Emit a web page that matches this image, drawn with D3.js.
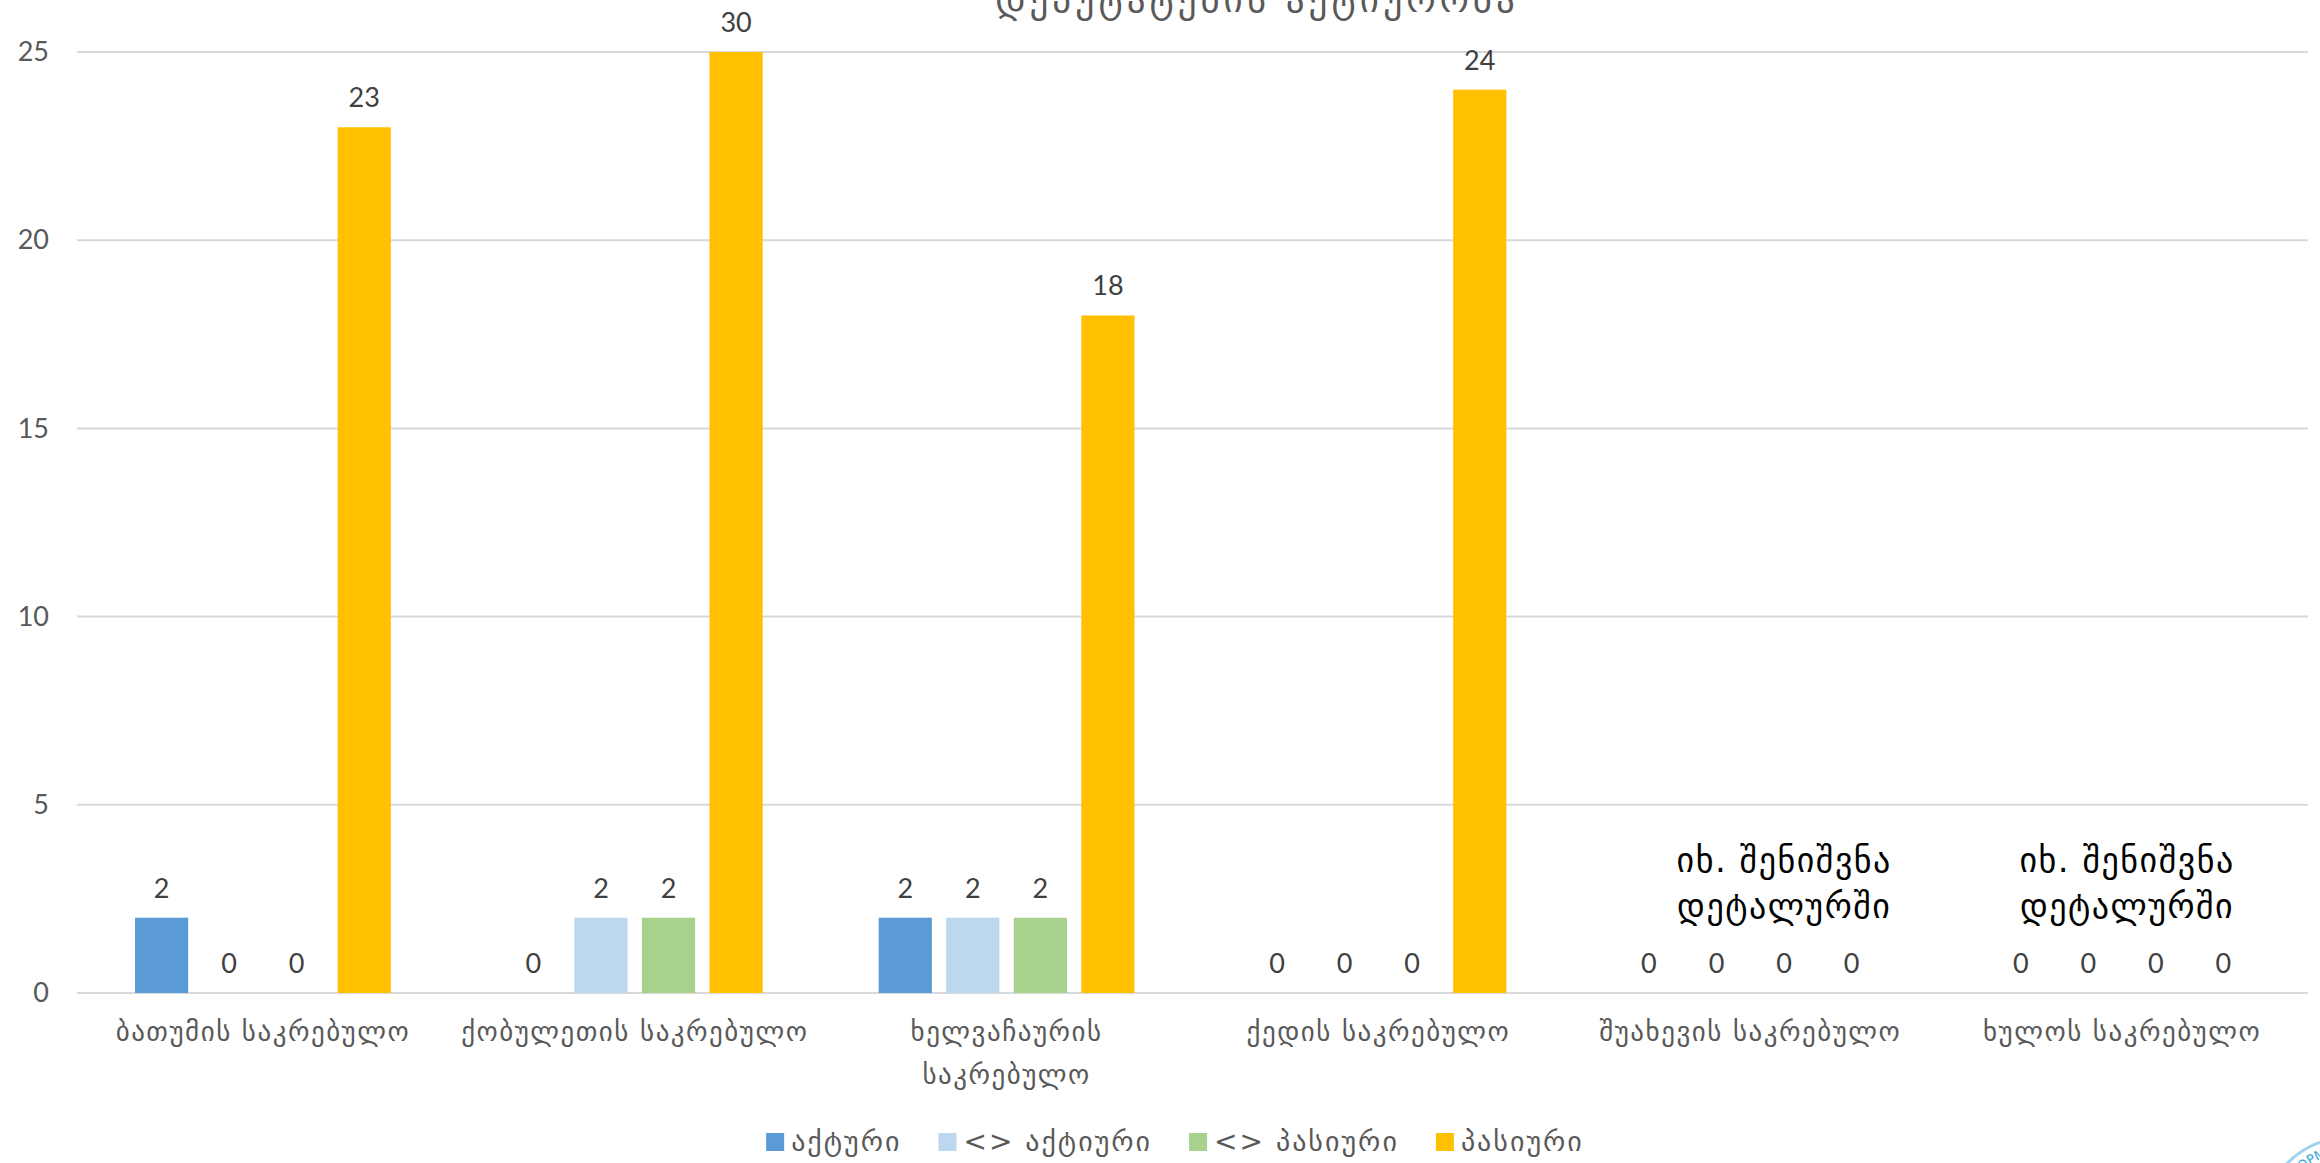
<!DOCTYPE html>
<html>
<head>
<meta charset="utf-8">
<script src="https://cdn.jsdelivr.net/npm/d3@7"></script>
<style>
  body { margin: 0; background: #fff; }
  svg { display: block; }
</style>
</head>
<body>
<div id="chart"></div>
<script>
// chart data
var categories = ["ბათუმის საკრებულო", "ქობულეთის საკრებულო", "ხელვაჩაურის\nსაკრებულო",
  "ქედის საკრებულო", "შუახევის საკრებულო", "ხულოს საკრებულო"];
var seriesNames = ["აქტური", "<> აქტიური", "<> პასიური", "პასიური"];
var aktiuri = [2, 0, 2, 0, 0, 0];
var naklebAktiuri = [0, 2, 2, 0, 0, 0];
var naklebPasiuri = [0, 2, 2, 0, 0, 0];
var pasiuri = [23, 30, 18, 24, 0, 0];
var yTicks = [0, 5, 10, 15, 20, 25];
var noteText = ["იხ. შენიშვნა", "დეტალურში"];
var noteCats = ["შუახევის საკრებულო", "ხულოს საკრებულო"];
var titleText = "დეპუტატების აქტიურობა";

var colors = ["#5b9bd5", "#bdd7ee", "#a9d18e", "#ffc000"];
var values = [aktiuri, naklebAktiuri, naklebPasiuri, pasiuri];

var width = 2320, height = 1163;
var margin = {top: 52, right: 12, bottom: 170, left: 77};

var data = categories.map(function(c, i) {
  return {cat: c, vals: seriesNames.map(function(s, j) { return {name: s, value: values[j][i]}; })};
});

var svg = d3.select("#chart").append("svg")
  .attr("width", width)
  .attr("height", height);

var x0 = d3.scaleBand()
  .domain(categories)
  .range([margin.left, width - margin.right])
  .paddingInner(0.312)
  .paddingOuter(0.156);

var x1 = d3.scaleBand()
  .domain(seriesNames)
  .range([0, x0.bandwidth()])
  .paddingInner(0.213);

var y = d3.scaleLinear()
  .domain([0, 25])
  .range([height - margin.bottom, margin.top])
  .clamp(true);

var numFont = "Lato, 'Open Sans', sans-serif";
var geoFont = "'DejaVu Sans', sans-serif";

// title (cut off at the top like in the source)
svg.append("text")
  .attr("x", 1257)
  .attr("y", 12)
  .attr("text-anchor", "middle")
  .style("font-family", geoFont)
  .style("font-size", "37px")
  .style("letter-spacing", "4px")
  .attr("fill", "#595959")
  .text(titleText);

// gridlines
svg.append("g")
  .selectAll("line")
  .data(yTicks)
  .enter().append("line")
  .attr("x1", margin.left)
  .attr("x2", width - margin.right)
  .attr("y1", d => y(d))
  .attr("y2", d => y(d))
  .attr("stroke", "#d9d9d9")
  .attr("stroke-width", 2);

// y axis
svg.append("g")
  .attr("transform", `translate(${margin.left},0)`)
  .call(d3.axisLeft(y).tickValues(yTicks).tickSize(0).tickPadding(28))
  .call(g => g.select(".domain").remove())
  .call(g => g.selectAll("text")
    .style("font-family", numFont)
    .style("font-size", "27px")
    .attr("fill", "#595959"));

// bars
var groups = svg.append("g")
  .selectAll("g")
  .data(data)
  .enter().append("g")
  .attr("transform", d => `translate(${x0(d.cat)},0)`);

groups.selectAll("rect")
  .data(d => d.vals)
  .enter().append("rect")
  .attr("x", d => x1(d.name))
  .attr("y", d => y(d.value))
  .attr("width", x1.bandwidth())
  .attr("height", d => y(0) - y(d.value))
  .attr("fill", (d, i) => colors[i]);

groups.selectAll("text.val")
  .data(d => d.vals)
  .enter().append("text")
  .attr("class", "val")
  .attr("x", d => x1(d.name) + x1.bandwidth() / 2)
  .attr("y", d => y(d.value) - 20)
  .attr("text-anchor", "middle")
  .style("font-family", numFont)
  .style("font-size", "27px")
  .attr("fill", "#404040")
  .text(d => d.value);

// category axis
svg.append("g")
  .attr("transform", `translate(0,${height - margin.bottom})`)
  .call(d3.axisBottom(x0).tickSize(0))
  .call(g => g.select(".domain").remove())
  .call(g => g.selectAll("text").each(function(d) {
    var t = d3.select(this).text("").attr("y", 0).attr("dy", null)
      .style("font-family", geoFont)
      .style("font-size", "27px")
      .style("letter-spacing", "1.5px")
      .attr("fill", "#595959");
    d.split("\n").forEach(function(line, k) {
      t.append("tspan").attr("x", 0).attr("y", 48 + k * 43).text(line);
    });
  }));

// notes above the empty groups
var noteDx = [34, 5];
noteCats.forEach(function(c, i) {
  var t = svg.append("text")
    .attr("text-anchor", "middle")
    .style("font-family", geoFont)
    .style("font-size", "34px")
    .style("letter-spacing", "1.5px")
    .attr("fill", "#000");
  noteText.forEach(function(line, k) {
    t.append("tspan")
      .attr("x", x0(c) + x0.bandwidth() / 2 + noteDx[i])
      .attr("y", 872 + k * 46)
      .text(line);
  });
});

// legend
var legend = svg.append("g");
var lx = 0;
seriesNames.forEach(function(s, i) {
  var item = legend.append("g").attr("transform", `translate(${lx},0)`);
  item.append("rect")
    .attr("x", 0).attr("y", -9)
    .attr("width", 18).attr("height", 18)
    .attr("fill", colors[i]);
  var t = item.append("text")
    .attr("x", 25).attr("y", 9)
    .style("font-family", geoFont)
    .style("font-size", "28px")
    .style("letter-spacing", "2px")
    .attr("fill", "#595959")
    .text(s);
  lx += 25 + t.node().getComputedTextLength() + 37;
});
lx -= 37;
legend.attr("transform", `translate(${1175 - lx / 2},1142)`);

// logo corner
var logo = svg.append("g");
logo.append("circle")
  .attr("cx", 2350).attr("cy", 1225).attr("r", 88)
  .attr("fill", "#fff")
  .attr("stroke", "#9fd3ee")
  .attr("stroke-width", 3);
logo.append("path")
  .attr("id", "logoArc")
  .attr("d", d3.arc()({innerRadius: 72, outerRadius: 72, startAngle: -Math.PI * 0.42, endAngle: Math.PI * 0.1}))
  .attr("transform", "translate(2350,1225)")
  .attr("fill", "none");
logo.append("text")
  .style("font-family", "'DejaVu Sans', sans-serif")
  .style("font-size", "13px")
  .attr("fill", "#2fa3dc")
  .append("textPath")
  .attr("href", "#logoArc")
  .text("DEVELOPMENT");
</script>
</body>
</html>
